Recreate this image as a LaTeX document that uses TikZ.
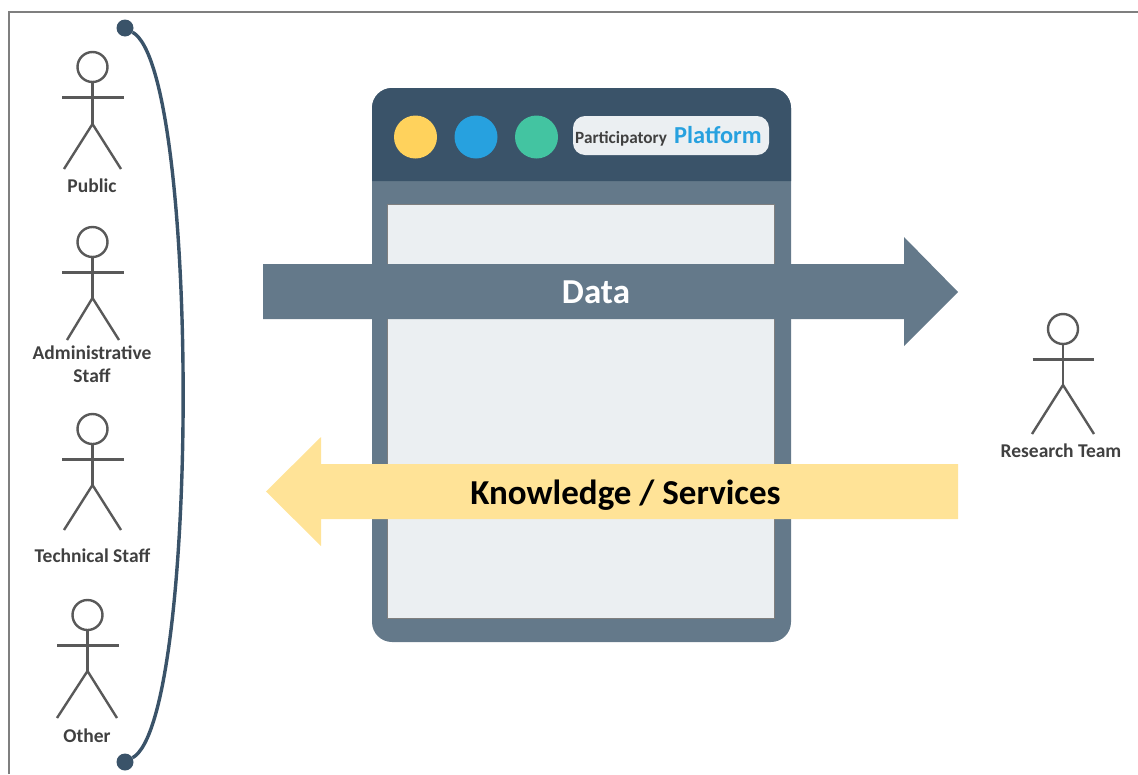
\documentclass[tikz,border=0pt]{standalone}
\usepackage{fontspec}
\setmainfont{Carlito}
\definecolor{darkhead}{HTML}{3A5369}
\definecolor{slatebody}{HTML}{64798A}
\definecolor{paleface}{HTML}{EBEFF2}
\definecolor{stickgray}{HTML}{595959}
\definecolor{labelgray}{HTML}{404040}
\definecolor{framegray}{HTML}{7F7F7F}
\definecolor{yellowdot}{HTML}{FFD25C}
\definecolor{bluedot}{HTML}{27A1DF}
\definecolor{greendot}{HTML}{43C4A1}
\definecolor{paleyellow}{HTML}{FFE397}
\tikzset{
  stickline/.style={draw=stickgray,line width=2.4pt},
  stickhead/.style={circle,draw=stickgray,line width=2.4pt,fill=white,minimum size=30pt,inner sep=0pt},
  actorlabel/.style={text=labelgray,font=\bfseries\fontsize{19.5}{23}\selectfont,align=center,inner sep=0pt},
  enddot/.style={circle,fill=darkhead,minimum size=17pt,inner sep=0pt},
  windowdot/.style={circle,minimum size=43pt,inner sep=0pt},
  arrowtext/.style={font=\bfseries\fontsize{35}{38}\selectfont,inner sep=0pt}
}
% name, head x, head y, hip y, left foot x, right foot x, foot y
\newcommand{\stickfigure}[7]{%
  \node[stickhead] (#1head) at (#2,#3) {};
  \coordinate (#1hip) at (#2,#4);
  \coordinate (#1armL) at (#2-30.5,#3+30.5);
  \coordinate (#1armR) at (#2+31,#3+30.5);
  \coordinate (#1footL) at (#5,#7);
  \coordinate (#1footR) at (#6,#7);
  \draw[stickline] (#1head.south) -- (#1hip);
  \draw[stickline] (#1armL) -- (#1armR);
  \draw[stickline] (#1footL) -- (#1hip) -- (#1footR);
}
\begin{document}
\begin{tikzpicture}[x=1pt,y=-1pt]
\useasboundingbox (0,0) rectangle (1138,774);
% frame
\draw[framegray,line width=2.2pt] (9,774) -- (9,12) -- (1138,12);
% actors
\stickfigure{pub}{92.5}{67}{124}{64}{121}{169}
\node[actorlabel] (publabel) at (92,185.5) {Public};
\stickfigure{adm}{92.5}{242}{298}{67}{119}{340}
\node[actorlabel] (admlabel) at (92,364) {Administrative\\Staff};
\stickfigure{tec}{92.5}{429}{485}{64}{121}{530}
\node[actorlabel] (teclabel) at (92.5,555.5) {Technical Staff};
\stickfigure{oth}{87.5}{615}{671}{57}{117}{718}
\node[actorlabel] (othlabel) at (87,735.5) {Other};
\stickfigure{res}{1063}{329}{385}{1032}{1094}{434}
\node[actorlabel] (reslabel) at (1061,450.5) {Research Team};
% brace curve
\node[enddot] (topdot) at (125,28) {};
\node[enddot] (botdot) at (125,762) {};
\draw[darkhead,line width=3.4pt] (topdot) .. controls (200,70) and (200,720) .. (botdot);
% window
\fill[slatebody,rounded corners=20pt] (372,88) rectangle (791,642);
\fill[darkhead] (372,181) -- (372,108) arc[start angle=180,end angle=90,radius=20pt] -- (771,88) arc[start angle=90,end angle=0,radius=20pt] -- (791,181) -- cycle;
\node[draw=framegray,line width=1pt,fill=paleface,minimum width=386.5pt,minimum height=414pt,inner sep=0pt] (screen) at (581,411.5) {};
\node[windowdot,fill=yellowdot] (dota) at (415.5,137) {};
\node[windowdot,fill=bluedot] (dotb) at (476,137) {};
\node[windowdot,fill=greendot] (dotc) at (536.5,137) {};
\node[fill=paleface,rounded corners=12pt,minimum width=196pt,minimum height=39pt,inner sep=0pt] (pill) at (671,135.5) {};
\node[anchor=base west,text=labelgray,font=\bfseries\fontsize{17.2}{20}\selectfont,inner sep=0pt] (parttext) at (575,143) {Participatory};
\node[anchor=base west,text=bluedot,font=\bfseries\fontsize{24.4}{26}\selectfont,inner sep=0pt] (plattext) at (674,143.5) {Platform};
% data arrow
\fill[slatebody] (263,264) -- (904,264) -- (904,237) -- (958,292) -- (904,346) -- (904,319) -- (263,319) -- cycle;
\node[arrowtext,text=white] (datatext) at (596,292.5) {Data};
% knowledge arrow
\fill[paleyellow] (958,464) -- (321,464) -- (321,437) -- (266,491.5) -- (321,546) -- (321,519) -- (958,519) -- cycle;
\node[arrowtext,text=black] (knowtext) at (625.5,495) {Knowledge / Services};
\end{tikzpicture}
\end{document}
